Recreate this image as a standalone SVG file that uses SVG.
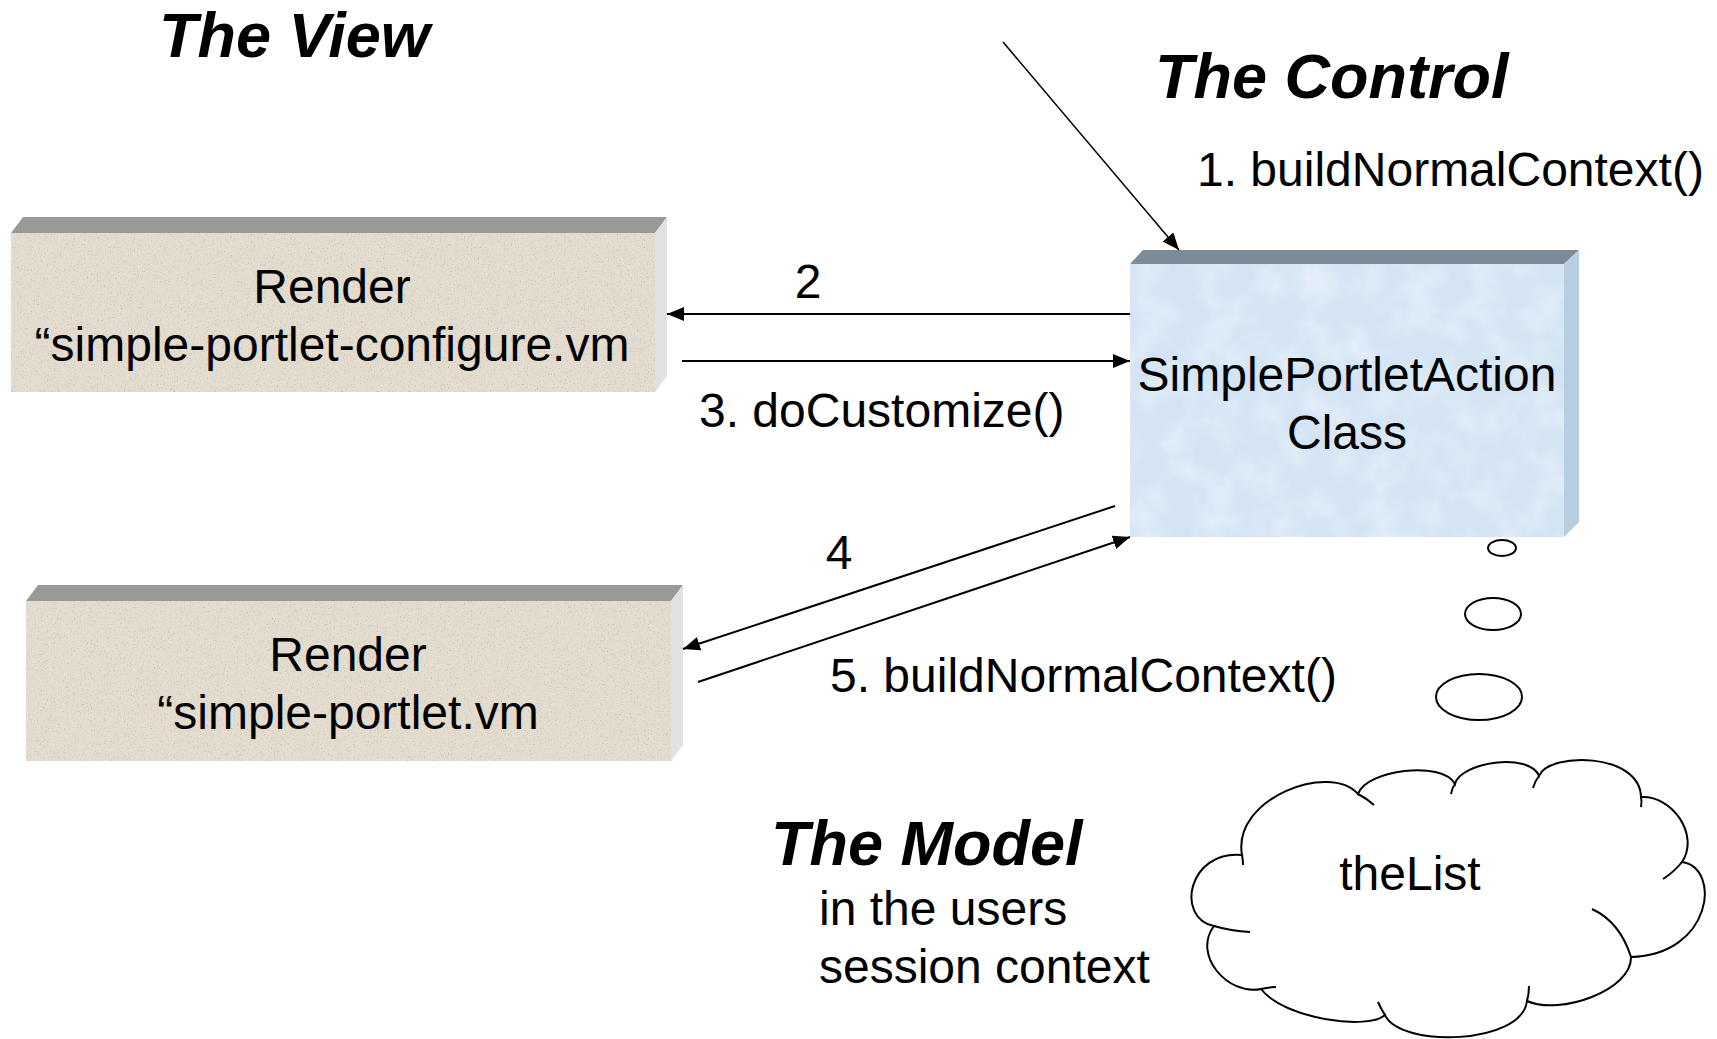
<svg xmlns="http://www.w3.org/2000/svg" width="1717" height="1039" viewBox="0 0 1717 1039">
<style>
text{font-family:"Liberation Sans",Arial,sans-serif;fill:#000}
.title{font-size:63px;font-weight:bold;font-style:italic}
.lbl{font-size:48px}
.mid{text-anchor:middle}
.conn{stroke:#000;stroke-width:2;fill:none}
.thin{stroke:#000;stroke-width:1.5;fill:none}
.bfront{fill:#e3dccf;filter:url(#granite)}
.btop{fill:#999999}
.bside{fill:#e1e1e1}
.cfront{fill:#d4e4f4;filter:url(#marble)}
.ctop{fill:#7b8c98}
.cside{fill:#b5cee1}
.outline{fill:#fff;stroke:#000;stroke-width:2}
.tail{fill:none;stroke:#000;stroke-width:2}
</style>
<defs>
<marker id="ah" markerUnits="userSpaceOnUse" markerWidth="18" markerHeight="14" refX="17" refY="7" orient="auto">
<path d="M0,0 L17,7 L0,14 z" fill="#000"/>
</marker>
<filter id="granite" x="0" y="0" width="100%" height="100%">
<feTurbulence type="fractalNoise" baseFrequency="0.7" numOctaves="2" seed="4" result="n"/>
<feColorMatrix in="n" type="matrix" values="0 0 0 0 0.5  0 0 0 0 0.45  0 0 0 0 0.4  3 0 0 0 -1.75" result="spk"/>
<feComposite in="spk" in2="SourceGraphic" operator="atop"/>
</filter>
<filter id="marble" x="0" y="0" width="100%" height="100%">
<feTurbulence type="fractalNoise" baseFrequency="0.03" numOctaves="3" seed="7" result="n"/>
<feColorMatrix in="n" type="matrix" values="0 0 0 0 0.9  0 0 0 0 0.95  0 0 0 0 1  1.0 0 0 0 -0.4" result="lt"/>
<feComposite in="lt" in2="SourceGraphic" operator="atop"/>
</filter>
</defs>

<g id="titles">
<text class="title" x="159" y="57">The View</text>
<text class="title" x="1155" y="98">The Control</text>
<text class="title" x="771" y="865">The Model</text>
<text class="lbl" x="819" y="925">in the users</text>
<text class="lbl" x="819" y="983">session context</text>
</g>

<g id="render-configure">
<polygon class="btop" points="11,233 23,217 667,217 655,233"/>
<polygon class="bside" points="655,233 667,217 667,376 655,392"/>
<rect class="bfront" x="11" y="233" width="644" height="159"/>
<text class="lbl mid" x="332" y="303">Render</text>
<text class="lbl mid" x="332" y="361">“simple-portlet-configure.vm</text>
</g>

<g id="render-portlet">
<polygon class="btop" points="26,601 38,585 683,585 671,601"/>
<polygon class="bside" points="671,601 683,585 683,745 671,761"/>
<rect class="bfront" x="26" y="601" width="645" height="160"/>
<text class="lbl mid" x="348" y="671">Render</text>
<text class="lbl mid" x="348" y="729">“simple-portlet.vm</text>
</g>

<g id="action-class">
<polygon class="ctop" points="1130,264 1143,250 1579,250 1564,264"/>
<polygon class="cside" points="1564,264 1579,250 1579,522 1564,537"/>
<rect class="cfront" x="1130" y="264" width="434" height="273"/>
<text class="lbl mid" x="1347" y="391">SimplePortletAction</text>
<text class="lbl mid" x="1347" y="449">Class</text>
</g>

<g id="connectors">
<line class="thin" x1="1003" y1="42" x2="1179" y2="250" marker-end="url(#ah)"/>
<line class="conn" x1="1130" y1="314" x2="667" y2="314" marker-end="url(#ah)"/>
<line class="conn" x1="682" y1="361" x2="1130" y2="361" marker-end="url(#ah)"/>
<line class="conn" x1="1115" y1="506" x2="683" y2="649" marker-end="url(#ah)"/>
<line class="conn" x1="698" y1="682" x2="1130" y2="537" marker-end="url(#ah)"/>
</g>

<g id="connector-labels">
<text class="lbl" x="1197" y="186">1. buildNormalContext()</text>
<text class="lbl mid" x="808" y="298">2</text>
<text class="lbl" x="699" y="427">3. doCustomize()</text>
<text class="lbl mid" x="839" y="569">4</text>
<text class="lbl" x="830" y="692">5. buildNormalContext()</text>
</g>

<g id="thought-bubbles">
<ellipse class="outline" cx="1502" cy="548" rx="14" ry="8"/>
<ellipse class="outline" cx="1493" cy="614" rx="28" ry="16"/>
<ellipse class="outline" cx="1479" cy="697" rx="43" ry="23"/>
</g>

<g id="theList">
<path class="outline" d="M1242,855 C1232,798 1330,762 1358,794 C1366,770 1442,760 1455,784 C1460,762 1530,752 1539,776 C1548,752 1640,752 1641,797 C1672,795 1700,835 1682,862 C1722,868 1712,955 1631,957 C1632,990 1560,1016 1527,1001 C1522,1045 1400,1048 1385,1015 C1370,1030 1285,1020 1261,989 C1228,996 1192,955 1214,926 C1175,918 1188,850 1242,855 Z"/>
<path class="tail" d="M1242,855 Q1243,860 1243,865"/>
<path class="tail" d="M1358,794 Q1366,798 1374,805"/>
<path class="tail" d="M1455,784 Q1452,788 1451,794"/>
<path class="tail" d="M1539,776 Q1535,781 1533,788"/>
<path class="tail" d="M1641,797 Q1642,801 1641,807"/>
<path class="tail" d="M1682,862 Q1674,872 1663,879"/>
<path class="tail" d="M1631,957 Q1620,922 1592,909"/>
<path class="tail" d="M1527,1001 Q1529,994 1529,986"/>
<path class="tail" d="M1385,1015 Q1381,1009 1378,1002"/>
<path class="tail" d="M1261,989 Q1268,987 1276,987"/>
<path class="tail" d="M1214,926 Q1231,931 1250,932"/>
<text class="lbl mid" x="1410" y="890">theList</text>
</g>
</svg>
